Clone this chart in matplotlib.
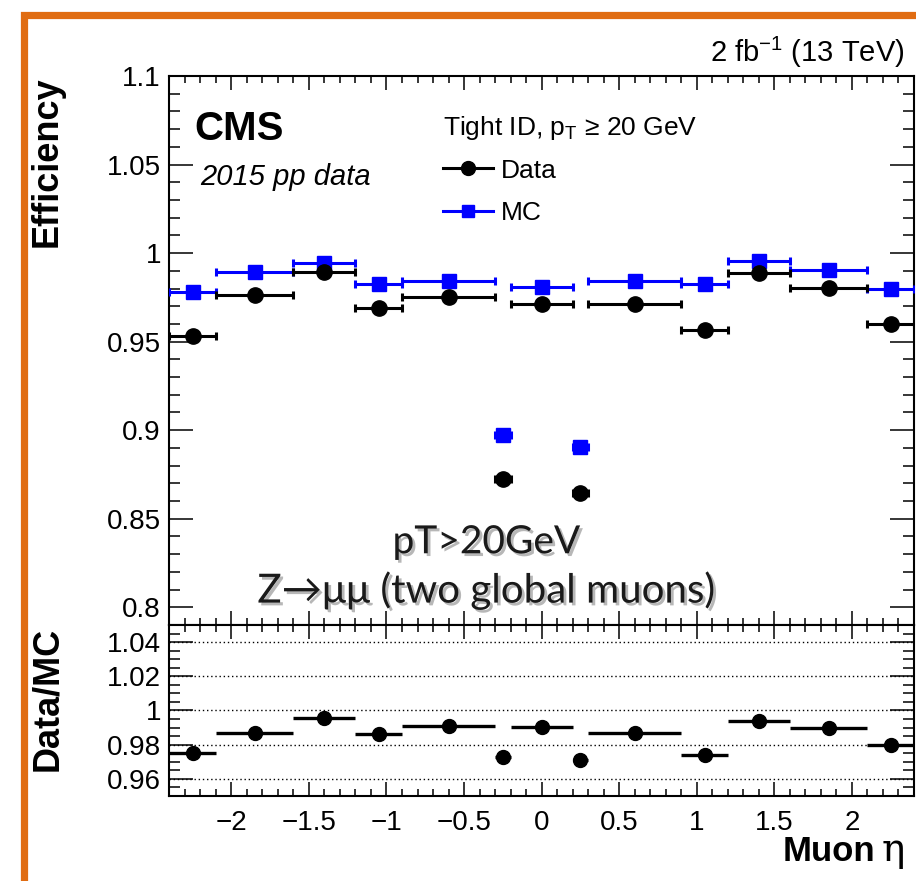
import numpy as np
import matplotlib
matplotlib.use("Agg")
import matplotlib.pyplot as plt
import matplotlib.patches as patches
import matplotlib.patheffects as pe
from matplotlib.lines import Line2D
from matplotlib.ticker import MultipleLocator, FixedLocator

plt.rcParams['font.family'] = ['Liberation Sans', 'DejaVu Sans']
plt.rcParams['mathtext.fontset'] = 'custom'
plt.rcParams['mathtext.rm'] = 'Liberation Sans'
plt.rcParams['mathtext.it'] = 'Liberation Sans:italic'
plt.rcParams['mathtext.bf'] = 'Liberation Sans:bold'
plt.rcParams['axes.unicode_minus'] = True

# muon eta binning
eta_edges = [-2.4, -2.1, -1.6, -1.2, -0.9, -0.3, -0.2, 0.2, 0.3, 0.9, 1.2, 1.6, 2.1, 2.4]

# tight ID efficiency per bin
eff_data = [0.9534, 0.9761, 0.9896, 0.9688, 0.9752, 0.8722, 0.9712,
            0.8644, 0.9712, 0.9568, 0.9885, 0.9801, 0.9597]
eff_mc = [0.9782, 0.9894, 0.9943, 0.9828, 0.9845, 0.8972, 0.9811,
          0.8905, 0.9845, 0.9824, 0.9953, 0.9903, 0.9795]

# data/MC scale factors
ratio = [0.9749, 0.9867, 0.9957, 0.9863, 0.9908, 0.9729, 0.9902,
         0.9708, 0.9867, 0.9739, 0.9941, 0.9896, 0.9796]

edges = np.array(eta_edges)
centers = 0.5 * (edges[1:] + edges[:-1])
half_w = 0.5 * (edges[1:] - edges[:-1])

fig = plt.figure(figsize=(9.16, 8.81), dpi=100)
ax1 = fig.add_axes([0.1848, 0.2906, 0.813, 0.6231])
ax2 = fig.add_axes([0.1848, 0.0965, 0.813, 0.1941], sharex=ax1)

ax1.errorbar(centers, eff_mc, xerr=half_w, fmt='s', color='#0000ff', ms=10,
             elinewidth=2.2, capsize=3, capthick=2.2, zorder=3)
ax1.errorbar(centers, eff_data, xerr=half_w, fmt='o', color='black', ms=11,
             elinewidth=2.2, capsize=3, capthick=2.2, zorder=4)

ax2.errorbar(centers, ratio, xerr=half_w, fmt='o', color='black', ms=10,
             elinewidth=2.4, capsize=0, zorder=4)
for yv in [0.96, 0.98, 1.0, 1.02, 1.04]:
    ax2.axhline(yv, color='black', lw=1, ls=(0, (1, 2)), zorder=1)

ax1.set_xlim(-2.4, 2.4)
ax1.set_ylim(0.79, 1.1)
ax2.set_ylim(0.95, 1.05)

ax1.yaxis.set_major_locator(FixedLocator([0.8, 0.85, 0.9, 0.95, 1.0, 1.05, 1.1]))
ax1.yaxis.set_minor_locator(MultipleLocator(0.01))
ax1.set_yticklabels(['0.8', '0.85', '0.9', '0.95', '1', '1.05', '1.1'])
ax2.yaxis.set_major_locator(FixedLocator([0.96, 0.98, 1.0, 1.02, 1.04]))
ax2.yaxis.set_minor_locator(MultipleLocator(0.005))
ax2.set_yticklabels(['0.96', '0.98', '1', '1.02', '1.04'])
ax2.xaxis.set_major_locator(FixedLocator([-2, -1.5, -1, -0.5, 0, 0.5, 1, 1.5, 2]))
ax2.xaxis.set_minor_locator(MultipleLocator(0.1))
ax2.set_xticklabels(['\u22122', '\u22121.5', '\u22121', '\u22120.5', '0', '0.5', '1', '1.5', '2'])

for ax in (ax1, ax2):
    for s in ax.spines.values():
        s.set_linewidth(1.5)
    ax.tick_params(which='both', direction='in', top=True, right=True, width=1.1,
                   labelsize=20, pad=6)
    ax.tick_params(axis='x', which='major', length=10)
    ax.tick_params(axis='x', which='minor', length=5)
    ax.tick_params(axis='y', which='major', length=17)
    ax.tick_params(axis='y', which='minor', length=8)
ax1.tick_params(axis='x', labelbottom=False)
ax2.tick_params(axis='x', pad=10)

ax1.set_ylabel('Efficiency', fontsize=26, fontweight='bold', loc='top')
ax1.yaxis.set_label_coords(-0.14, 1.0)
ax2.set_ylabel('Data/MC', fontsize=26, fontweight='bold', loc='top')
ax2.yaxis.set_label_coords(-0.14, 0.99)

# x title: bold word, upright regular eta
ax2.text(0.948, -0.38, 'Muon', transform=ax2.transAxes, fontsize=25,
         fontweight='bold', ha='right', va='baseline')
ax2.text(0.988, -0.38, '\u03b7', transform=ax2.transAxes, fontsize=28,
         family=['DejaVu Serif'], ha='right', va='baseline')

ax1.text(0.034, 0.883, 'CMS', transform=ax1.transAxes, fontsize=29,
         fontweight='bold', va='baseline')
ax1.text(0.041, 0.801, '2015 pp data', transform=ax1.transAxes, fontsize=21,
         fontstyle='italic', va='baseline')
fig.text(0.988, 0.93, '2 fb$^{-1}$ (13 TeV)', ha='right', va='baseline', fontsize=21)

handles = [Line2D([], [], color='black', marker='o', ms=10, lw=2.2),
           Line2D([], [], color='#0000ff', marker='s', ms=9, lw=2.2)]
leg = ax1.legend(handles, ['Data', 'MC'], loc='upper left',
                 bbox_to_anchor=(0.35, 0.955), frameon=False, fontsize=19,
                 title='Tight ID, p$_{\\mathrm{T}}$ \u2265 20 GeV', title_fontsize=19,
                 alignment='left', handlelength=1.9, handletextpad=0.3,
                 labelspacing=0.7, borderpad=0)
leg._legend_box.sep = 12

# slide annotations
shadow = [pe.SimplePatchShadow(offset=(2, -2), shadow_rgbFace='#888888', alpha=0.6),
          pe.Normal()]
fig.text(0.531, 0.372, 'pT>20GeV', ha='center', va='baseline', fontsize=28,
         family=['Lato', 'DejaVu Sans'], color='#1a1a1a', path_effects=shadow)
fig.text(0.531, 0.316, 'Z\u2192\u03bc\u03bc (two global muons)', ha='center',
         va='baseline', fontsize=29, family=['Lato', 'DejaVu Sans'],
         color='#1a1a1a', path_effects=shadow)

# orange frame
frame = patches.Rectangle((0.0258, -0.2), 1.5, 0.9833 + 0.2, transform=fig.transFigure,
                          fill=False, lw=5.2, edgecolor='#e06c12')
fig.add_artist(frame)

fig.savefig('out.png', dpi=100)
